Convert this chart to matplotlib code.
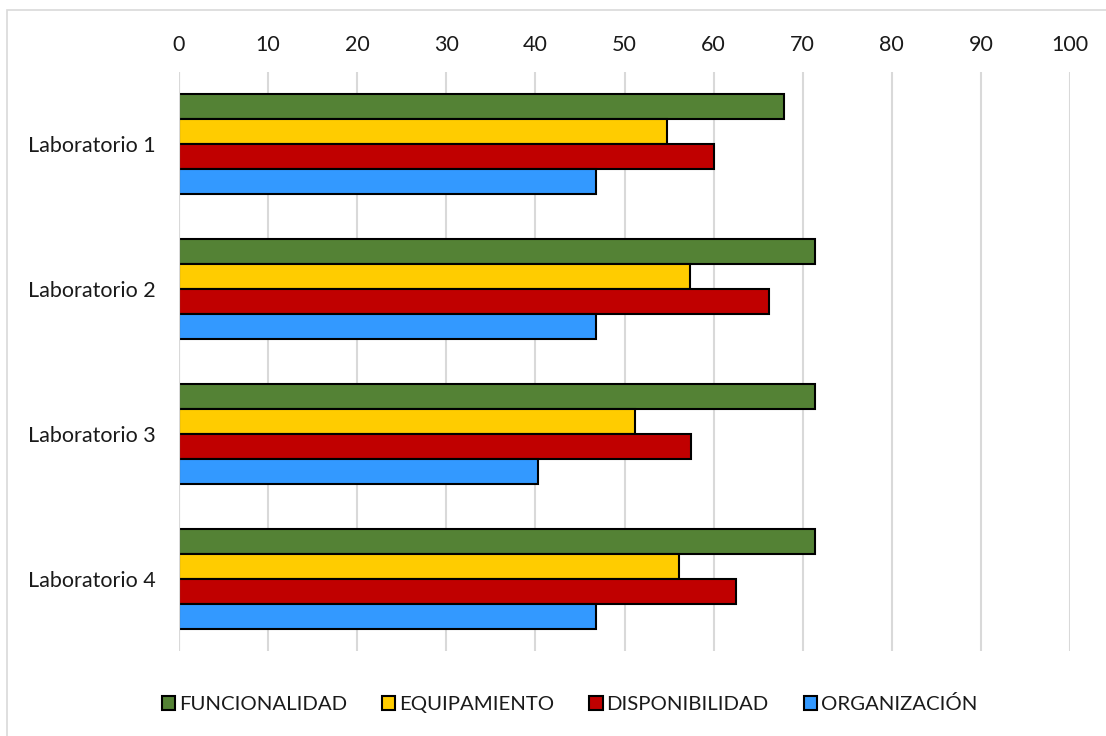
import matplotlib.pyplot as plt
import numpy as np
from matplotlib.patches import Rectangle

plt.rcParams['font.family'] = ['Lato', 'DejaVu Sans']

labs = ["Laboratorio 1", "Laboratorio 2", "Laboratorio 3", "Laboratorio 4"]
series = ["FUNCIONALIDAD", "EQUIPAMIENTO", "DISPONIBILIDAD", "ORGANIZACIÓN"]
funcionalidad = [67.9, 71.4, 71.4, 71.4]
equipamiento = [54.8, 57.3, 51.2, 56.1]
disponibilidad = [60.0, 66.2, 57.5, 62.5]
organizacion = [46.8, 46.8, 40.3, 46.8]
colors = ["#548235", "#FFCC00", "#C00000", "#3399FF"]

values = [funcionalidad, equipamiento, disponibilidad, organizacion]

W, H = 1106, 736
fig = plt.figure(figsize=(W / 100, H / 100), dpi=100)
ax = fig.add_axes([179 / W, 1 - 651 / H, (1070 - 179) / W, (651 - 72) / H])

bar_h = 0.1727
y = np.arange(len(labs))
for i, (name, vals, c) in enumerate(zip(series, values, colors)):
    offset = (i - 1.5) * bar_h
    ax.barh(y + offset, vals, height=bar_h, color=c, edgecolor="black",
            linewidth=1.5, label=name, zorder=3)

ax.set_xlim(0, 100)
ax.set_ylim(len(labs) - 0.5, -0.5)
ax.set_xticks(range(0, 101, 10))
ax.set_yticks(y)
ax.set_yticklabels(labs)
ax.xaxis.tick_top()
ax.tick_params(axis="both", length=0, labelsize=15.5, colors="#1a1a1a")
ax.tick_params(axis="x", pad=12.5)
ax.tick_params(axis="y", pad=17)
ax.grid(axis="x", color="#d9d9d9", linewidth=1.5, zorder=0)
for s in ax.spines.values():
    s.set_visible(False)
ax.axvline(0, color="#d9d9d9", linewidth=1.5, zorder=4)

leg = fig.legend(loc="center", bbox_to_anchor=(0.515, 1 - 704 / H), ncol=4,
                 frameon=False, fontsize=14.7, handlelength=0.65, handleheight=0.65,
                 handletextpad=0.2, columnspacing=1.7)
for t in leg.get_texts():
    t.set_color("#1a1a1a")
for h in leg.legend_handles:
    h.set_linewidth(1.5)

# thin frame around the chart area (top and left edges)
fig.patches.append(Rectangle((7 / W, -0.01), 1.05, 1 - 10 / H + 0.01, transform=fig.transFigure,
                             fill=False, edgecolor="#d9d9d9", linewidth=1.2))

fig.savefig("out.png", dpi=100, facecolor="white")
